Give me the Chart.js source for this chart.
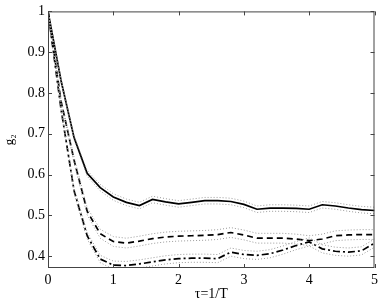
<!DOCTYPE html>
<html><head><meta charset="utf-8">
<script src="https://cdn.jsdelivr.net/npm/chart.js@4/dist/chart.umd.min.js"></script>
<style>html,body{margin:0;padding:0;background:#fff}#wrap{width:382px;height:303px}</style>
</head><body><div id="wrap"><canvas id="c" width="382" height="303"></canvas></div>
<script>
const tau = [0,0.2,0.4,0.6,0.8,1.0,1.2,1.4,1.6,1.8,2.0,2.2,2.4,2.6,2.8,3.0,3.2,3.4,3.6,3.8,4.0,4.2,4.4,4.6,4.8,5.0];
const solid = [1.0,0.83,0.69,0.603,0.568,0.545,0.532,0.524,0.539,0.533,0.528,0.532,0.536,0.536,0.534,0.527,0.515,0.518,0.518,0.517,0.515,0.526,0.523,0.518,0.514,0.512];
const dashed = [1.0,0.78,0.635,0.51,0.455,0.436,0.432,0.437,0.443,0.447,0.449,0.450,0.451,0.453,0.458,0.452,0.444,0.444,0.444,0.442,0.438,0.442,0.450,0.452,0.453,0.453];
const dashdot = [1.0,0.76,0.56,0.45,0.393,0.378,0.377,0.381,0.386,0.391,0.394,0.395,0.395,0.394,0.41,0.404,0.402,0.406,0.415,0.426,0.435,0.418,0.412,0.41,0.413,0.432];
const solidErr = [0.0,0.004,0.006,0.007,0.008,0.008,0.008,0.008,0.008,0.008,0.008,0.008,0.008,0.008,0.008,0.008,0.008,0.008,0.008,0.008,0.008,0.008,0.008,0.008,0.008,0.008];
const dashedErr = [0.0,0.005,0.007,0.009,0.011,0.012,0.012,0.012,0.012,0.012,0.012,0.012,0.012,0.012,0.012,0.012,0.012,0.012,0.012,0.012,0.012,0.012,0.012,0.012,0.012,0.012];
const dashdotErr = [0.0,0.005,0.007,0.008,0.009,0.010,0.010,0.010,0.010,0.010,0.010,0.010,0.010,0.010,0.010,0.010,0.010,0.010,0.010,0.010,0.010,0.010,0.010,0.010,0.010,0.010];
const yTicks = [0.4,0.5,0.6,0.7,0.8,0.9,1];
const xTicks = [0,1,2,3,4,5];

const pts = (ys) => tau.map((x,i)=>({x:x,y:ys[i]}));
const band = (ys, es, s) => tau.map((x,i)=>({x:x,y:ys[i]+s*es[i]}));

const bandStyle = {borderColor:'#9a9a9a',borderWidth:1,borderDash:[1,2],pointRadius:0,tension:0,fill:false};
const datasets = [
  Object.assign({data:band(solid,solidErr,1)},bandStyle),
  Object.assign({data:band(solid,solidErr,-1)},bandStyle),
  Object.assign({data:band(dashed,dashedErr,1)},bandStyle),
  Object.assign({data:band(dashed,dashedErr,-1)},bandStyle),
  Object.assign({data:band(dashdot,dashdotErr,1)},bandStyle),
  Object.assign({data:band(dashdot,dashdotErr,-1)},bandStyle),
  {data:pts(solid),borderColor:'#000',borderWidth:1.7,pointRadius:0,tension:0,fill:false},
  {data:pts(dashed),borderColor:'#000',borderWidth:1.7,borderDash:[6,4],pointRadius:0,tension:0,fill:false},
  {data:pts(dashdot),borderColor:'#000',borderWidth:1.7,borderDash:[7,3,2,3],pointRadius:0,tension:0,fill:false}
];

const frame = {
  id:'frame',
  afterDraw(chart){
    const {ctx,chartArea:a,scales} = chart;
    ctx.save();
    ctx.strokeStyle='#444';
    ctx.lineWidth=1;
    ctx.strokeRect(a.left+0.5,a.top+0.5,a.right-a.left-1,a.bottom-a.top-1);
    ctx.beginPath();
    xTicks.forEach(v=>{
      const px=Math.round(scales.x.getPixelForValue(v))+0.5;
      ctx.moveTo(px,a.bottom);ctx.lineTo(px,a.bottom-4);
      ctx.moveTo(px,a.top);ctx.lineTo(px,a.top+4);
    });
    yTicks.forEach(v=>{
      const py=Math.round(scales.y.getPixelForValue(v))+0.5;
      ctx.moveTo(a.left,py);ctx.lineTo(a.left+4,py);
      ctx.moveTo(a.right,py);ctx.lineTo(a.right-4,py);
    });
    ctx.stroke();
    ctx.restore();
  }
};

const font = {family:'"Liberation Serif", "DejaVu Serif", serif', size:14};
new Chart(document.getElementById('c'),{
  type:'line',
  data:{datasets:datasets},
  options:{
    responsive:false,animation:false,
    layout:{padding:{top:10,right:6,left:0,bottom:0}},
    plugins:{legend:{display:false},tooltip:{enabled:false}},
    scales:{
      x:{type:'linear',min:0,max:5,
        afterBuildTicks:(s)=>{s.ticks=xTicks.map(v=>({value:v}));},
        afterFit:(s)=>{s.height=35;},
        grid:{display:false,drawTicks:false},border:{display:false},
        ticks:{color:'#000',font:font,padding:4,maxRotation:0,callback:(v)=>String(v)},
        title:{display:true,text:'τ=1/T',color:'#000',font:font,padding:{top:0,bottom:0}}
      },
      y:{type:'linear',min:0.371,max:1,
        afterBuildTicks:(s)=>{s.ticks=yTicks.map(v=>({value:v}));},
        afterFit:(s)=>{s.width=48;},
        grid:{display:false,drawTicks:false},border:{display:false},
        ticks:{color:'#000',font:font,padding:3,callback:(v)=>String(Math.round(v*10)/10)},
        title:{display:true,text:'g₂',color:'#000',font:{family:font.family,size:13},padding:{top:2,bottom:2}}
      }
    }
  },
  plugins:[frame]
});
</script></body></html>
